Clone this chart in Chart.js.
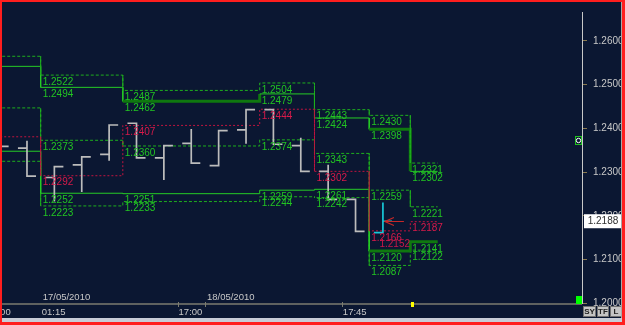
<!DOCTYPE html>
<html><head><meta charset="utf-8">
<script src="https://cdn.jsdelivr.net/npm/chart.js@4.4.1/dist/chart.umd.min.js"></script>
<style>html,body{margin:0;padding:0;background:#0b1732;overflow:hidden}#c{display:block}</style>
</head><body><canvas id="c" width="625" height="325"></canvas>
<script>
// ---- OHLC bars (index 0..14) ----
const barOpen  = [1.2370, 1.2355, 1.2288, 1.2317, 1.2341, 1.2412, 1.2333, 1.2366, 1.2315, 1.2397, 1.2443, 1.2361, 1.2302, 1.2238, 1.2162];
const barHigh  = [1.2378, 1.2372, 1.2313, 1.2335, 1.2408, 1.2412, 1.2361, 1.2399, 1.2395, 1.2443, 1.2443, 1.2379, 1.2317, 1.2238, 1.2231];
const barLow   = [1.2350, 1.2291, 1.2233, 1.2255, 1.2326, 1.2333, 1.2282, 1.2321, 1.2315, 1.2365, 1.2364, 1.2302, 1.2235, 1.2165, 1.2162];
const barClose = [1.2359, 1.2291, 1.2313, 1.2335, 1.2408, 1.2333, 1.2361, 1.2321, 1.2395, 1.2443, 1.2364, 1.2302, 1.2238, 1.2165, 1.2188];
const currentPrice = 1.2188;

// ---- session ranges (in bar units) and level values per session ----
const sessionEdges    = [-1, 1.5, 4.5, 9.5, 11.5, 13.5, 15, 16];
const levelHighTop    = [1.2565, 1.2522, 1.2487, 1.2504, 1.2443, 1.2430, 1.2321];
const levelHighBottom = [1.2542, 1.2494, 1.2462, 1.2479, 1.2424, 1.2398, 1.2302];
const levelMid        = [1.2447, 1.2373, 1.2360, 1.2374, 1.2343, 1.2259, 1.2221];
const levelLowTop     = [1.2348, 1.2252, 1.2251, 1.2259, 1.2261, 1.2120, 1.2141];
const levelLowBottom  = [1.2325, 1.2223, 1.2233, 1.2244, 1.2242, 1.2087, 1.2122];
const levelRed        = [1.2381, 1.2292, 1.2407, 1.2444, 1.2302, 1.2166, 1.2187];
const extraRedPos     = [13.8];
const extraRedVal     = [1.2152];

// ---- axis labels ----
const priceTicks   = [1.20, 1.21, 1.22, 1.23, 1.24, 1.25, 1.26];
const timeTickPos  = [-0.5, 1.5, 6.5, 12.5];
const timeLabels   = ['16:00', '01:15', '17:00', '17:45'];
const dateTickPos  = [1.5, 7.5];
const dateLabels   = ['17/05/2010', '18/05/2010'];

// ---- build datasets ----
const TICK = 0.33;
function ohlcPoints(from, to) {
  const pts = [];
  for (let i = from; i <= to; i++) {
    pts.push({x: i - TICK, y: barOpen[i]}, {x: i, y: barOpen[i]}, {x: i, y: barHigh[i]},
             {x: i, y: barLow[i]}, {x: i, y: barClose[i]}, {x: i + TICK, y: barClose[i]});
    pts.push({x: i + 0.5, y: null});
  }
  return pts;
}
function levelPoints(vals) {
  const pts = [];
  vals.forEach((v, s) => { pts.push({x: sessionEdges[s], y: v}, {x: sessionEdges[s + 1], y: v}); });
  return pts;
}
function levelDataset(vals, st) {
  const sess = ctx => Math.floor(ctx.p0DataIndex / 2);
  return {
    data: levelPoints(vals), pointRadius: 0, borderWidth: 1, borderColor: st.color, tension: 0,
    segment: {
      borderWidth: ctx => (st.thick || []).includes(sess(ctx)) ? 3 : 1,
      borderColor: ctx => (st.thick || []).includes(sess(ctx)) ? '#0f780f' : st.color,
      borderDash: ctx => (st.thick || []).includes(sess(ctx)) ? [] : (st.dash || [])
    }
  };
}

const green = '#1eae1e', greenSolid = '#26cc26', redDot = '#c0143f';
const datasets = [
  {data: ohlcPoints(0, 13), borderColor: '#bcbcbc', borderWidth: 1.7, pointRadius: 0, spanGaps: false},
  {data: ohlcPoints(14, 14), borderColor: '#18c8d8', borderWidth: 1.7, pointRadius: 0, spanGaps: false},
  levelDataset(levelRed, {color: redDot, dash: [2, 2]}),
  levelDataset(levelHighTop, {color: green, dash: [3, 2]}),
  levelDataset(levelHighBottom, {color: greenSolid, thick: [2, 5]}),
  levelDataset(levelMid, {color: green, dash: [3, 2]}),
  levelDataset(levelLowTop, {color: greenSolid, thick: [5, 6]}),
  levelDataset(levelLowBottom, {color: green, dash: [3, 2]})
];

const labelSeries = [
  {vals: levelHighTop, color: '#22c422'}, {vals: levelHighBottom, color: '#22c422'},
  {vals: levelMid, color: '#22c422'}, {vals: levelLowTop, color: '#22c422'},
  {vals: levelLowBottom, color: '#22c422'}, {vals: levelRed, color: '#d81a4a'}
];

const overlay = {
  id: 'overlay',
  beforeDraw(chart) {
    const c = chart.ctx; c.save();
    c.fillStyle = '#0b1732'; c.fillRect(0, 0, 625, 325);
    c.restore();
  },
  afterDatasetsDraw(chart) {
    const c = chart.ctx, xs = chart.scales.x, ys = chart.scales.y, a = chart.chartArea;
    c.save();
    c.beginPath(); c.rect(a.left, a.top, a.right - a.left, a.bottom - a.top); c.clip();
    c.font = '10px "Liberation Sans", Arial, sans-serif';
    c.textBaseline = 'top'; c.textAlign = 'left';
    labelSeries.forEach(s => {
      c.fillStyle = s.color;
      s.vals.forEach((v, k) => {
        if (k === 0) return; // first session labels lie off the left edge
        c.fillText(v.toFixed(4), xs.getPixelForValue(sessionEdges[k]) + 2, ys.getPixelForValue(v) + 2);
      });
    });
    c.fillStyle = '#c81848';
    extraRedPos.forEach((p, k) => c.fillText(extraRedVal[k].toFixed(4), xs.getPixelForValue(p) + 2, ys.getPixelForValue(extraRedVal[k]) + 2));
    // current price arrow
    const ax = xs.getPixelForValue(14) + 2, ay = Math.round(ys.getPixelForValue(currentPrice)) + 0.5;
    c.strokeStyle = '#c82828'; c.lineWidth = 1.2;
    c.beginPath(); c.moveTo(ax, ay); c.lineTo(ax + 19, ay);
    c.moveTo(ax + 9, ay - 4); c.lineTo(ax, ay); c.lineTo(ax + 9, ay + 4); c.stroke();
    c.restore();
  },
  afterDraw(chart) {
    const c = chart.ctx, xs = chart.scales.x, ys = chart.scales.y, a = chart.chartArea;
    c.save();
    // x axis line
    c.strokeStyle = '#7c7c70'; c.lineWidth = 1.5;
    c.beginPath(); c.moveTo(a.left, 304); c.lineTo(a.right, 304); c.stroke();
    c.lineWidth = 1;
    [6.5, 7.5, 12.5].forEach(p => { const px = Math.round(xs.getPixelForValue(p)) + 0.5; c.beginPath(); c.moveTo(px, 302); c.lineTo(px, 307); c.stroke(); });
    // x labels
    c.beginPath(); c.rect(a.left, 280, a.right - a.left, 40); c.clip();
    c.font = '9.5px "Liberation Sans", Arial, sans-serif'; c.fillStyle = '#c8c8c8';
    c.textBaseline = 'middle'; c.textAlign = 'left';
    timeTickPos.forEach((p, k) => c.fillText(timeLabels[k], xs.getPixelForValue(p) + 1, 312));
    dateTickPos.forEach((p, k) => c.fillText(dateLabels[k], xs.getPixelForValue(p) + 2, 297));
    c.restore();
    c.save();
    // markers
    c.fillStyle = '#00ff00'; c.fillRect(576, 296, 6, 8);
    c.fillStyle = '#ffff00'; c.fillRect(411, 302, 3, 5);
    c.strokeStyle = '#20c020'; c.lineWidth = 1; c.strokeRect(575.5, 136.5, 6, 8);
    c.strokeStyle = '#ffffff'; c.beginPath(); c.arc(578.5, 140.5, 2.2, 0, Math.PI * 2); c.stroke();
    // price box
    const py = ys.getPixelForValue(currentPrice);
    c.fillStyle = '#ffffff'; c.fillRect(584, py - 7, 38, 14);
    c.fillStyle = '#303030'; c.font = '10px "Liberation Sans", Arial, sans-serif';
    c.textAlign = 'center'; c.textBaseline = 'middle'; c.fillText(currentPrice.toFixed(4), 603, py);
    // buttons
    [['SY', 583, 13], ['TF', 597, 12], ['L', 610, 12]].forEach(b => {
      c.fillStyle = '#c4c4c4'; c.fillRect(b[1], 306, b[2], 11);
      c.strokeStyle = '#707070'; c.strokeRect(b[1] + 0.5, 306.5, b[2] - 1, 10);
      c.fillStyle = '#202020'; c.font = 'bold 8px "Liberation Sans", Arial, sans-serif';
      c.fillText(b[0], b[1] + b[2] / 2, 312);
    });
    // bottom strip
    c.fillStyle = '#c8ccd6'; c.fillRect(0, 318, 625, 5);
    // right frame line
    c.fillStyle = '#a8a8a8'; c.fillRect(621, 0, 1, 318);
    // red border
    c.fillStyle = '#ff1e1e';
    c.fillRect(0, 0, 625, 2); c.fillRect(0, 0, 2, 325); c.fillRect(622, 0, 3, 325); c.fillRect(0, 322, 625, 3);
    c.restore();
  }
};

new Chart(document.getElementById('c'), {
  type: 'line',
  data: {datasets},
  options: {
    responsive: false, animation: false, devicePixelRatio: 1,
    layout: {padding: {left: 2, top: 2, right: 3, bottom: 21.5}},
    plugins: {legend: {display: false}, tooltip: {enabled: false}},
    elements: {line: {tension: 0}},
    scales: {
      x: {type: 'linear', display: false, min: 0.0877, max: 21.271},
      y: {
        position: 'right', min: 1.2, max: 1.26662,
        afterFit: s => { s.width = 40; },
        afterBuildTicks: s => { s.ticks = priceTicks.map(v => ({value: v})); },
        grid: {drawOnChartArea: false, tickLength: 5, color: '#8a7a50'},
        border: {color: '#c8c8c8', width: 1},
        ticks: {color: '#c8c8c8', padding: 6, font: {family: 'Liberation Sans', size: 10},
                callback: v => Number(v).toFixed(4)}
      }
    }
  },
  plugins: [overlay]
});
</script>
</body></html>
